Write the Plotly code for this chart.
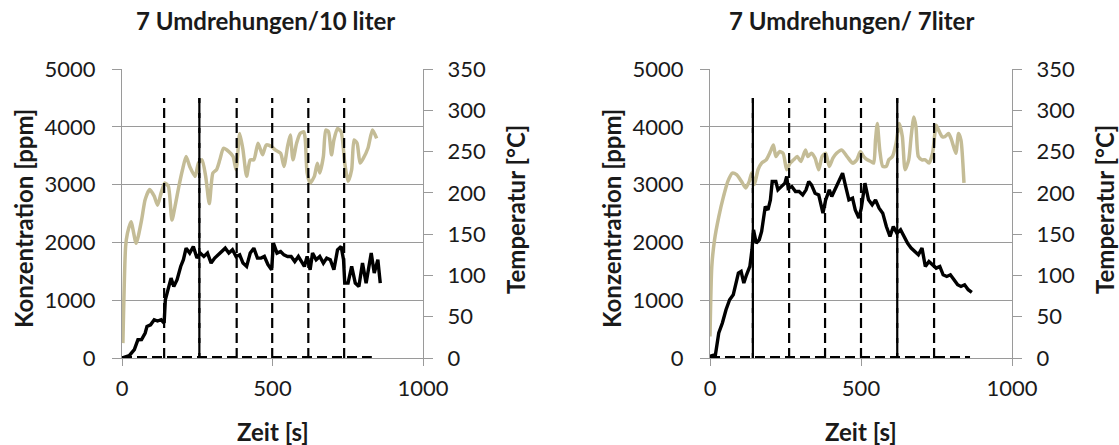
import plotly.graph_objects as go

# ---------------- data: left chart "7 Umdrehungen/10 liter" ----------------
L_conc_t = [0, 12, 24, 41, 53, 65, 77, 83, 95, 107, 118, 130, 140, 144, 154, 163, 172, 183, 195, 204,
            213, 225, 237, 249, 260, 272, 284, 296, 308, 320, 331, 343, 355, 367, 379, 391, 402, 414,
            426, 438, 450, 462, 473, 485, 497, 503, 515, 527, 538, 550, 562, 574, 586, 598, 606, 615,
            625, 633, 645, 657, 669, 680, 692, 704, 716, 728, 736, 740, 751, 763, 775, 787, 799, 811,
            822, 828, 838, 850, 858]
L_conc = [0, 20, 40, 144, 317, 320, 432, 547, 575, 662, 640, 662, 605, 1008, 1180, 1382, 1238, 1354, 1584, 1700,
          1900, 1815, 1930, 1728, 1815, 1757, 1815, 1642, 1728, 1785, 1843, 1900, 1815, 1872, 1757, 1785, 1642, 1584,
          1815, 1900, 1728, 1728, 1757, 1613, 1526, 1987, 1815, 1843, 1785, 1757, 1757, 1670, 1757, 1642, 1584, 1757,
          1526, 1815, 1700, 1757, 1642, 1728, 1700, 1526, 1872, 1930, 1700, 1296, 1296, 1584, 1296, 1238, 1642, 1296,
          1584, 1815, 1469, 1700, 1296]

L_temp_t = [3, 12, 18, 30, 47, 65, 77, 92, 107, 118, 130, 142, 154, 166, 178, 189, 201, 213, 225, 243,
            254, 266, 278, 290, 302, 314, 325, 337, 355, 369, 379, 391, 402, 414, 426, 438, 452, 467, 479,
            497, 509, 527, 538, 550, 559, 568, 580, 592, 604, 609, 615, 625, 639, 649, 657, 669, 677, 686,
            696, 704, 716, 728, 740, 751, 763, 771, 781, 791, 802, 817, 832, 846]
L_temp = [18, 135, 151, 165, 139, 167, 192, 204, 196, 185, 200, 212, 208, 167, 187, 208, 228, 244, 232, 220,
          236, 240, 220, 187, 224, 228, 240, 254, 250, 244, 228, 272, 252, 220, 240, 240, 260, 246, 258,
          256, 252, 248, 232, 256, 270, 240, 260, 272, 274, 264, 224, 212, 220, 236, 224, 244, 276, 274,
          246, 264, 278, 274, 236, 214, 228, 264, 260, 236, 242, 254, 276, 266]

L_events = [140, 257, 381, 499, 619, 738]
L_events_double = [257]          # pulses whose up/down strokes overlap (look solid)
L_end = 830

# ---------------- data: right chart "7 Umdrehungen/ 7liter" ----------------
R_conc_t = [0, 18, 29, 41, 53, 65, 77, 85, 94, 103, 112, 121, 132, 139, 144, 153, 163, 171, 183, 192,
            200, 206, 218, 225, 236, 248, 254, 259, 271, 283, 295, 307, 318, 327, 336, 348, 360, 374,
            383, 395, 403, 413, 425, 439, 448, 460, 472, 481, 493, 501, 513, 525, 537, 548, 560, 572,
            584, 596, 607, 619, 631, 639, 654, 666, 678, 690, 702, 713, 725, 737, 749, 761, 772, 784,
            796, 808, 820, 831, 843, 855, 867]
R_conc = [29, 58, 432, 605, 835, 1008, 1094, 1296, 1469, 1498, 1296, 1440, 1584, 1872, 2218, 1987, 2045, 2189, 2621, 2563,
          2736, 3053, 3053, 2909, 2966, 3024, 3139, 2938, 2966, 2880, 2880, 2822, 2909, 3053, 2995, 2851, 2822, 2506,
          2736, 2909, 2794, 2909, 3024, 3197, 2995, 2736, 2765, 2563, 2419, 2592, 3024, 2736, 2650, 2736, 2592, 2506,
          2275, 2103, 2275, 2160, 2218, 2131, 1987, 1901, 1843, 1786, 1901, 1584, 1670, 1613, 1555, 1584, 1440, 1411,
          1440, 1354, 1267, 1238, 1267, 1181, 1135]

R_temp_t = [0, 6, 15, 29, 45, 59, 74, 88, 104, 118, 130, 138, 147, 159, 171, 186, 200, 210, 218, 230,
            242, 254, 265, 277, 289, 301, 316, 324, 336, 348, 360, 371, 383, 395, 407, 419, 436, 454, 472,
            486, 498, 509, 521, 533, 542, 548, 554, 562, 572, 584, 592, 604, 616, 627, 637, 646, 658, 666,
            675, 682, 690, 702, 713, 725, 737, 749, 757, 769, 778, 790, 800, 814, 823, 831, 841]
R_temp = [26, 111, 143, 171, 196, 214, 224, 222, 214, 206, 214, 224, 210, 228, 236, 240, 250, 258, 244, 250,
          248, 228, 236, 240, 244, 238, 252, 244, 248, 242, 228, 244, 248, 232, 242, 248, 252, 244, 236,
          240, 250, 244, 240, 238, 236, 264, 284, 252, 232, 232, 240, 244, 260, 284, 268, 228, 240, 268,
          292, 280, 244, 240, 240, 236, 248, 282, 276, 268, 268, 272, 264, 248, 272, 264, 212]

R_events = [142, 262, 381, 500, 620, 742]
R_events_double = [142, 620]
R_end = 861

EVENT_PEAK_PPM = 4500

X_TICKS = [0, 500, 1000]
PPM_TICKS = [0, 1000, 2000, 3000, 4000, 5000]
TEMP_TICKS = [0, 50, 100, 150, 200, 250, 300, 350]

TITLES = ["7 Umdrehungen/10 liter", "7 Umdrehungen/ 7liter"]
X_TITLE = "Zeit [s]"
Y_TITLE = "Konzentration [ppm]"
Y2_TITLE = "Temperatur [°C]"

# ---------------- figure ----------------
W, H = 1119, 445
FONT = "Lato"
TAN = "#C4BC96"
GRID = "#9A9A9A"
TXT = "#1a1a1a"
DASH = "10px,5px"


def pulse_segments(events, doubles, peak):
    xs, ys = [], []
    for e in events:
        xs += [e, e, None]
        ys += [0, peak, None]
        if e in doubles:
            xs += [e, e, None]
            ys += [peak, 0, None]
    return xs, ys


fig = go.Figure()

panels = [
    dict(ct=L_conc_t, c=L_conc, tt=L_temp_t, tv=L_temp, ev=L_events, dbl=L_events_double, end=L_end,
         xa="x", ytemp="y", yppm="y2", px=(122, 423)),
    dict(ct=R_conc_t, c=R_conc, tt=R_temp_t, tv=R_temp, ev=R_events, dbl=R_events_double, end=R_end,
         xa="x2", ytemp="y3", yppm="y4", px=(710, 1012)),
]

top_px, bot_px = 69, 358
ydom = [1 - bot_px / H, 1 - top_px / H]

for i, p in enumerate(panels):
    fig.add_trace(go.Scatter(x=p["tt"], y=p["tv"], xaxis=p["xa"], yaxis=p["ytemp"], mode="lines",
                             line=dict(color=TAN, width=3.5, shape="spline", smoothing=0.6),
                             showlegend=False, hoverinfo="skip"))
    # baseline of the event signal (half of it is clipped at the axis, so draw it wider)
    fig.add_trace(go.Scatter(x=[0, p["end"]], y=[0, 0], xaxis=p["xa"], yaxis=p["yppm"], mode="lines",
                             line=dict(color="black", width=4, dash=DASH),
                             showlegend=False, hoverinfo="skip"))
    ex, ey = pulse_segments(p["ev"], p["dbl"], EVENT_PEAK_PPM)
    fig.add_trace(go.Scatter(x=ex, y=ey, xaxis=p["xa"], yaxis=p["yppm"], mode="lines",
                             connectgaps=False,
                             line=dict(color="black", width=2.2, dash=DASH),
                             showlegend=False, hoverinfo="skip"))
    fig.add_trace(go.Scatter(x=p["ct"], y=p["c"], xaxis=p["xa"], yaxis=p["yppm"], mode="lines",
                             line=dict(color="black", width=3.4),
                             showlegend=False, hoverinfo="skip"))

tickfont = dict(family=FONT, size=22, color=TXT)
layout = dict(width=W, height=H, margin=dict(l=0, r=0, t=0, b=0, autoexpand=False),
              paper_bgcolor="white", plot_bgcolor="white", showlegend=False)

for i, p in enumerate(panels):
    n = "" if i == 0 else "2"
    xdom = [p["px"][0] / W, p["px"][1] / W]
    ytemp_name = "yaxis" if i == 0 else "yaxis3"
    yppm_name = "yaxis2" if i == 0 else "yaxis4"
    layout["xaxis" + n] = dict(domain=xdom, range=[0, 1000], tickvals=X_TICKS, ticks="outside",
                               ticklen=7, tickcolor=GRID, showline=True, linecolor=GRID, linewidth=1,
                               showgrid=False, zeroline=False, tickfont=tickfont, automargin=False,
                               anchor=p["ytemp"], fixedrange=True, ticklabelstandoff=4)
    layout[ytemp_name] = dict(domain=ydom, range=[0, 350], tickvals=TEMP_TICKS, side="right",
                              anchor=p["xa"], ticks="outside", ticklen=9, tickcolor=GRID,
                              showline=True, linecolor=GRID, linewidth=1, showgrid=False,
                              zeroline=False, tickfont=tickfont, ticklabelstandoff=10, automargin=False,
                              fixedrange=True)
    layout[yppm_name] = dict(range=[0, 5000], tickvals=PPM_TICKS, side="left",
                             overlaying=p["ytemp"], anchor=p["xa"], ticks="outside", ticklen=9,
                             tickcolor=GRID, showline=True, linecolor=GRID, linewidth=1,
                             showgrid=True, gridcolor=GRID, gridwidth=1, zeroline=False,
                             tickfont=tickfont, ticklabelstandoff=12, automargin=False,
                             fixedrange=True)

fig.update_layout(**layout)

ann = []
titlefont = dict(family=FONT, size=24, color=TXT, weight="bold")
axfont = dict(family=FONT, size=24, color=TXT, weight="bold")
centers = [(122 + 423) / 2, (710 + 1012) / 2]
title_x = [265, 851]
ylab_x = [23, 611]
y2lab_x = [515, 1104]
for i in range(2):
    ann.append(dict(text=TITLES[i], x=title_x[i] / W, y=1 - 21 / H, xref="paper", yref="paper",
                    showarrow=False, font=titlefont, xanchor="center", yanchor="middle"))
    ann.append(dict(text=X_TITLE, x=centers[i] / W, y=1 - 431 / H, xref="paper", yref="paper",
                    showarrow=False, font=axfont, xanchor="center", yanchor="middle"))
    ann.append(dict(text=Y_TITLE, x=ylab_x[i] / W, y=1 - 219 / H, xref="paper", yref="paper",
                    showarrow=False, font=axfont, textangle=-90, xanchor="center", yanchor="middle"))
    ann.append(dict(text=Y2_TITLE, x=y2lab_x[i] / W, y=1 - 210 / H, xref="paper", yref="paper",
                    showarrow=False, font=axfont, textangle=-90, xanchor="center", yanchor="middle"))
fig.update_layout(annotations=ann)

fig.write_html("out.html", config={"displayModeBar": False},
               post_script="document.body.style.margin='0';document.body.style.overflow='hidden';")
